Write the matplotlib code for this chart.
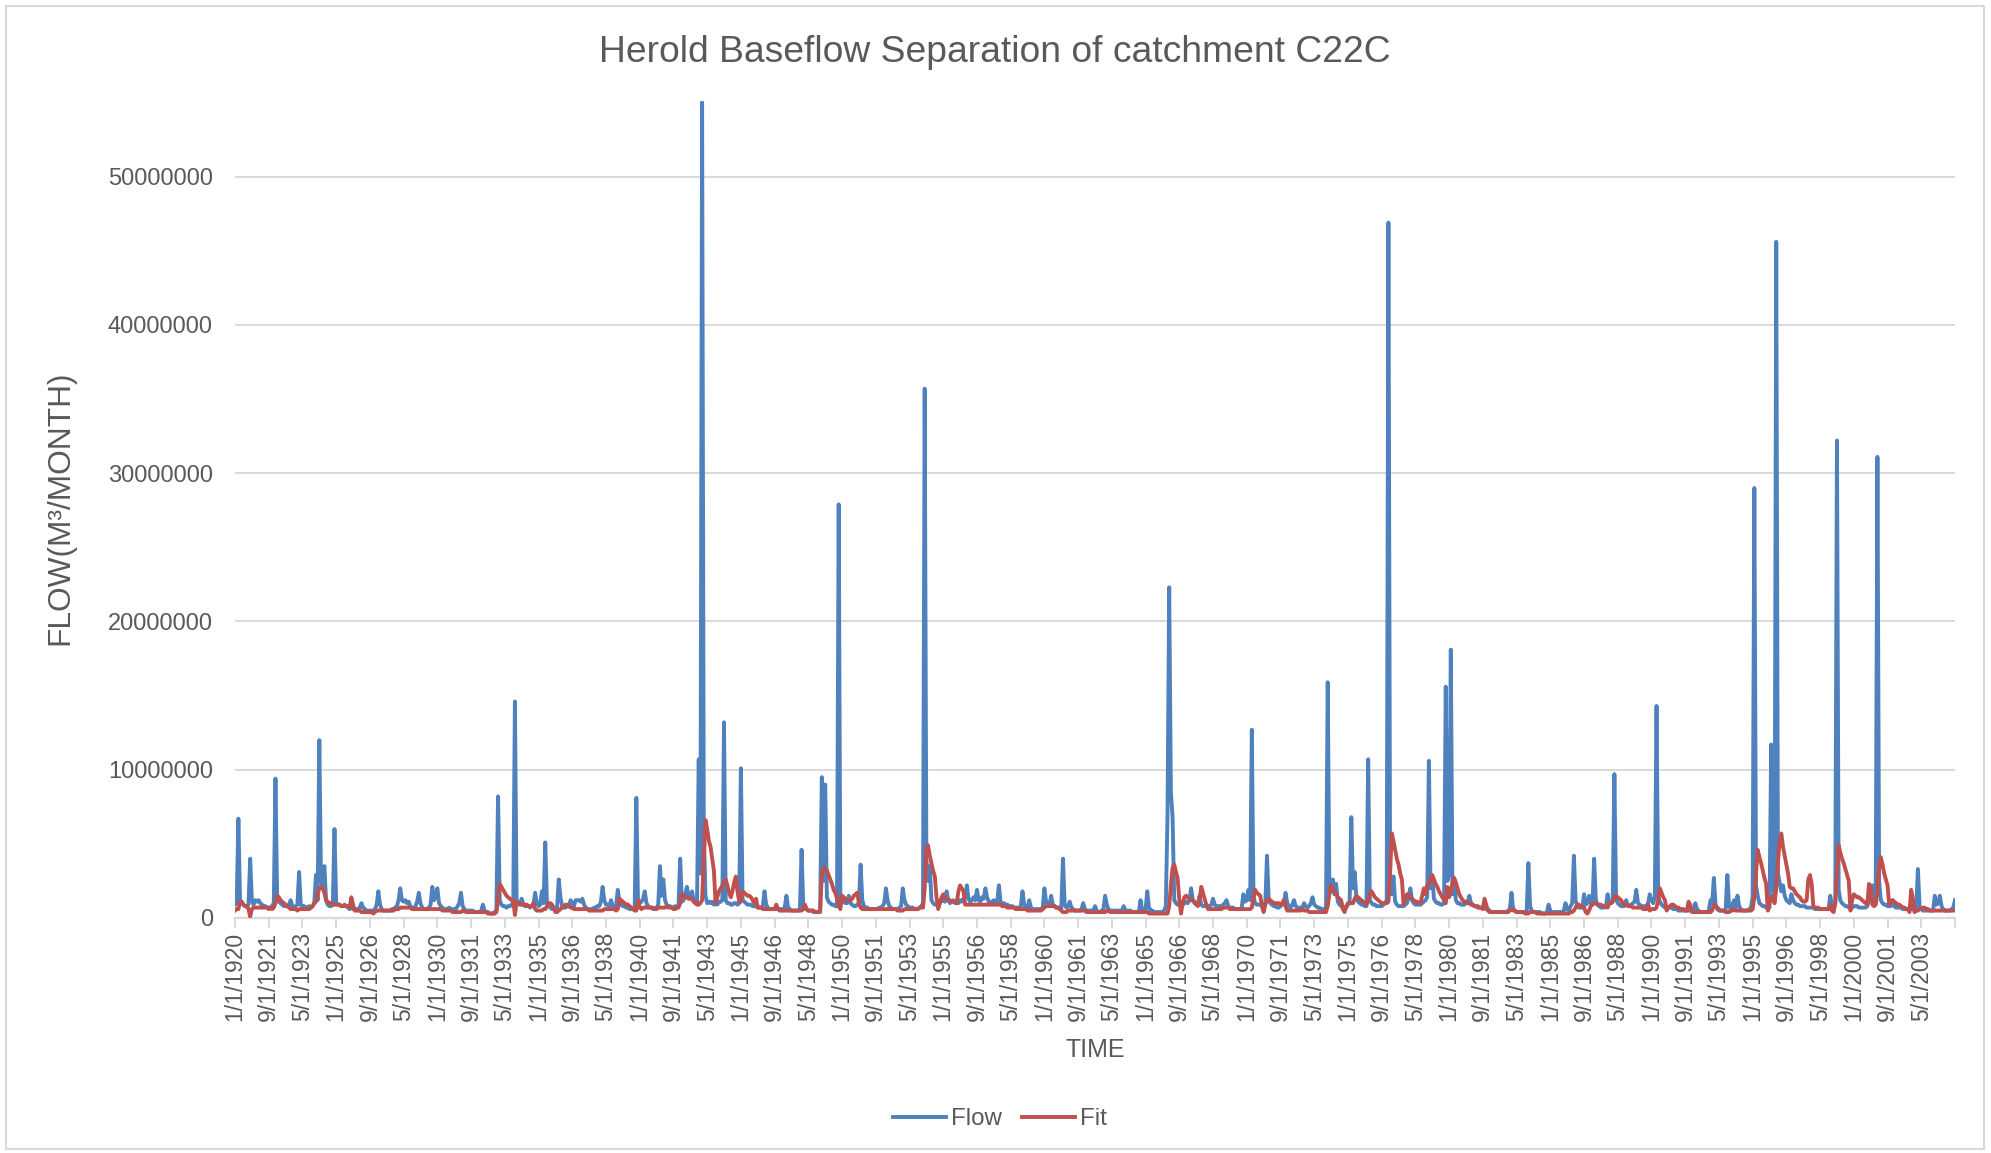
import numpy as np
import matplotlib
matplotlib.use("Agg")
import matplotlib.pyplot as plt
from matplotlib.patches import Rectangle
from matplotlib.lines import Line2D
from matplotlib.ticker import FuncFormatter

plt.rcParams['font.family'] = ['Liberation Sans', 'DejaVu Sans']

FIRST_YEAR = 1920
UNIT = 1e5  # table values are in units of 100 000 m3 per month

# Observed monthly flow, one row per calendar year (Jan..Dec)
flow_rows = [
    [9, 10, 67, 12, 10, 9, 8, 8, 9, 40, 12, 9],          # 1920
    [12, 11, 12, 10, 9, 8, 8, 7, 7, 7, 8, 10],
    [94, 14, 11, 10, 9, 8, 8, 8, 9, 12, 8, 7],
    [8, 9, 31, 9, 8, 8, 7, 7, 8, 7, 8, 10],
    [29, 12, 120, 25, 22, 35, 12, 9, 8, 8, 9, 60],
    [10, 9, 9, 8, 8, 9, 8, 7, 6, 7, 6, 6],
    [6, 6, 7, 10, 7, 6, 5, 5, 5, 5, 5, 6],
    [9, 18, 9, 6, 5, 5, 5, 5, 5, 6, 6, 7],
    [8, 12, 20, 12, 11, 12, 10, 11, 8, 7, 6, 8],
    [11, 17, 10, 7, 6, 6, 6, 7, 9, 21, 12, 14],
    [20, 10, 8, 7, 6, 6, 6, 7, 6, 6, 6, 6],              # 1930
    [8, 10, 17, 8, 6, 5, 5, 5, 5, 5, 4, 4],
    [4, 4, 5, 9, 5, 4, 4, 3, 3, 3, 4, 5],
    [82, 12, 9, 8, 8, 7, 8, 8, 9, 8, 146, 12],
    [10, 9, 13, 9, 8, 8, 8, 7, 8, 9, 17, 10],
    [8, 9, 18, 10, 51, 10, 8, 7, 6, 6, 6, 7],
    [26, 14, 8, 7, 7, 8, 8, 12, 10, 8, 12, 12],
    [12, 11, 13, 9, 7, 6, 6, 6, 6, 7, 7, 8],
    [8, 11, 21, 12, 9, 9, 8, 12, 8, 7, 8, 19],
    [11, 9, 8, 8, 7, 7, 6, 6, 6, 6, 81, 10],
    [10, 11, 13, 18, 10, 8, 7, 7, 6, 6, 7, 9],           # 1940
    [35, 15, 26, 12, 9, 8, 8, 7, 7, 8, 7, 8],
    [40, 11, 12, 16, 21, 14, 13, 18, 12, 10, 11, 107],
    [30, 550, 60, 15, 10, 11, 10, 11, 9, 10, 9, 11],
    [11, 12, 132, 12, 10, 10, 9, 9, 10, 10, 9, 10],
    [101, 12, 11, 10, 9, 9, 9, 8, 8, 8, 7, 7],
    [7, 8, 18, 9, 7, 6, 6, 6, 6, 6, 6, 6],
    [6, 6, 7, 15, 7, 6, 5, 5, 5, 5, 5, 6],
    [46, 8, 6, 6, 5, 5, 5, 4, 4, 4, 4, 5],
    [95, 25, 90, 14, 11, 10, 9, 9, 8, 8, 279, 12],
    [14, 11, 10, 10, 15, 10, 9, 8, 8, 9, 10, 36],        # 1950
    [12, 8, 7, 7, 6, 6, 6, 6, 6, 6, 7, 7],
    [8, 10, 20, 12, 8, 7, 6, 6, 6, 6, 7, 8],
    [20, 12, 9, 8, 7, 7, 7, 6, 6, 6, 7, 8],
    [10, 357, 40, 25, 35, 12, 10, 9, 9, 9, 10, 12],
    [12, 11, 18, 12, 10, 11, 12, 10, 11, 10, 12, 11],
    [13, 14, 22, 13, 11, 12, 14, 12, 19, 12, 11, 14],
    [13, 20, 14, 11, 10, 11, 12, 10, 11, 22, 11, 9],
    [10, 9, 9, 8, 8, 8, 7, 7, 7, 7, 8, 18],
    [9, 7, 7, 12, 7, 6, 6, 6, 6, 6, 6, 7],
    [20, 11, 9, 9, 15, 9, 8, 7, 7, 7, 6, 40],            # 1960
    [9, 7, 8, 11, 7, 6, 5, 5, 5, 5, 6, 10],
    [6, 5, 5, 5, 5, 5, 8, 5, 4, 4, 5, 6],
    [15, 9, 6, 5, 5, 5, 5, 5, 5, 5, 5, 8],
    [5, 5, 5, 5, 4, 4, 4, 4, 4, 12, 5, 5],
    [6, 18, 7, 5, 5, 4, 4, 4, 4, 4, 4, 5],
    [8, 70, 223, 85, 68, 12, 10, 9, 9, 8, 9, 10],
    [11, 10, 12, 20, 12, 10, 9, 9, 15, 9, 8, 8],
    [9, 8, 8, 9, 13, 9, 8, 8, 8, 8, 9, 10],
    [12, 8, 7, 7, 7, 6, 6, 6, 6, 7, 16, 11],
    [12, 19, 12, 127, 14, 10, 9, 9, 9, 8, 9, 10],        # 1970
    [42, 12, 10, 9, 8, 8, 7, 7, 8, 9, 10, 17],
    [10, 8, 7, 9, 12, 8, 7, 7, 7, 7, 10, 8],
    [7, 8, 10, 14, 9, 8, 7, 7, 6, 6, 6, 7],
    [159, 20, 18, 26, 16, 23, 11, 9, 8, 7, 7, 7],
    [9, 11, 68, 20, 31, 14, 11, 10, 9, 9, 8, 8],
    [107, 12, 10, 9, 9, 8, 8, 8, 8, 9, 10, 12],
    [469, 25, 16, 28, 11, 9, 8, 8, 8, 8, 9, 10],
    [14, 20, 12, 10, 9, 9, 9, 9, 10, 11, 12, 14],
    [106, 20, 28, 13, 11, 10, 10, 9, 9, 10, 156, 25],
    [30, 181, 16, 25, 12, 10, 10, 9, 9, 9, 10, 11],      # 1980
    [15, 10, 9, 8, 8, 8, 7, 7, 7, 7, 6, 6],
    [5, 4, 4, 4, 4, 4, 4, 4, 4, 4, 4, 5],
    [6, 17, 6, 5, 4, 4, 4, 4, 4, 4, 4, 37],
    [8, 5, 4, 4, 4, 4, 4, 3, 3, 3, 4, 9],
    [5, 4, 4, 4, 4, 4, 4, 4, 5, 10, 6, 5],
    [8, 10, 42, 12, 8, 7, 7, 7, 16, 9, 10, 15],
    [10, 9, 40, 12, 9, 8, 7, 7, 7, 8, 16, 10],
    [10, 11, 97, 13, 10, 9, 8, 8, 8, 12, 8, 8],
    [9, 10, 11, 19, 10, 9, 8, 8, 8, 8, 10, 16],
    [12, 10, 14, 143, 14, 11, 9, 8, 7, 7, 7, 7],         # 1990
    [7, 6, 6, 6, 5, 5, 5, 5, 5, 5, 5, 5],
    [5, 6, 10, 6, 5, 4, 4, 4, 4, 4, 5, 12],
    [10, 27, 9, 6, 5, 5, 5, 5, 6, 29, 8, 6],
    [9, 12, 7, 15, 8, 6, 5, 5, 5, 5, 6, 7],
    [14, 290, 22, 15, 10, 9, 8, 8, 7, 7, 7, 117],
    [20, 15, 456, 30, 24, 18, 22, 15, 12, 11, 10, 16],
    [12, 10, 9, 9, 8, 8, 8, 8, 7, 7, 7, 7],
    [7, 6, 6, 6, 6, 6, 6, 6, 6, 6, 15, 8],
    [7, 10, 322, 19, 12, 10, 9, 8, 8, 7, 7, 7],
    [8, 8, 8, 7, 7, 7, 7, 7, 8, 12, 14, 22],             # 2000
    [12, 20, 311, 25, 12, 10, 9, 9, 8, 8, 8, 12],
    [8, 7, 7, 7, 7, 6, 6, 6, 6, 6, 6, 6],
    [6, 7, 33, 8, 6, 5, 5, 5, 5, 5, 5, 5],
    [15, 9, 10, 15, 8, 6, 5, 5, 5, 5, 6, 7],
    [12],                                                # Jan 2005
]

# Fitted baseflow, same layout
fit_rows = [
    [5, 6, 6, 11, 11, 9, 8, 8, 6, 1, 6, 7],              # 1920
    [7, 7, 7, 7, 7, 7, 7, 7, 6, 7, 6, 7],
    [10, 15, 14, 12, 11, 10, 9, 8, 7, 6, 6, 6],
    [6, 5, 6, 6, 6, 6, 6, 6, 6, 7, 8, 10],
    [11, 16, 20, 21, 20, 17, 12, 11, 10, 10, 9, 9],
    [9, 9, 9, 8, 8, 8, 8, 8, 7, 14, 9, 5],
    [5, 5, 5, 4, 4, 4, 4, 4, 4, 4, 3, 4],
    [5, 5, 5, 5, 5, 5, 5, 5, 5, 5, 5, 6],
    [6, 6, 7, 7, 7, 7, 7, 7, 7, 6, 6, 6],
    [6, 6, 6, 6, 6, 6, 6, 6, 6, 6, 6, 6],
    [6, 6, 6, 5, 5, 5, 5, 5, 5, 4, 4, 4],                # 1930
    [4, 4, 4, 5, 5, 4, 4, 4, 4, 4, 4, 4],
    [4, 4, 4, 4, 4, 4, 3, 3, 3, 3, 3, 4],
    [12, 23, 21, 19, 17, 15, 14, 13, 12, 12, 2, 11],
    [10, 9, 9, 9, 9, 9, 8, 8, 8, 10, 6, 5],
    [5, 5, 5, 6, 6, 8, 10, 10, 9, 7, 4, 4],
    [5, 6, 7, 8, 9, 9, 8, 7, 7, 6, 6, 6],
    [6, 6, 6, 6, 6, 6, 5, 5, 5, 5, 5, 5],
    [5, 5, 5, 6, 6, 6, 6, 6, 6, 6, 5, 6],
    [13, 12, 11, 10, 9, 9, 8, 7, 6, 5, 5, 12],
    [7, 6, 7, 7, 7, 7, 7, 7, 7, 6, 6, 7],                # 1940
    [7, 7, 7, 7, 8, 7, 7, 7, 6, 6, 7, 7],
    [10, 16, 15, 14, 14, 13, 13, 13, 11, 10, 9, 9],
    [10, 12, 40, 66, 60, 52, 48, 40, 32, 10, 14, 18],
    [20, 22, 24, 26, 22, 17, 14, 18, 24, 28, 18, 11],
    [11, 18, 17, 16, 15, 15, 14, 12, 10, 13, 7, 7],
    [7, 6, 6, 6, 6, 6, 6, 6, 6, 9, 6, 5],
    [5, 5, 5, 5, 5, 5, 5, 5, 5, 5, 5, 5],
    [5, 6, 9, 6, 5, 5, 5, 5, 4, 4, 4, 4],
    [30, 34, 33, 32, 29, 26, 23, 19, 17, 13, 8, 6],
    [15, 14, 13, 12, 12, 12, 13, 15, 16, 17, 10, 7],     # 1950
    [6, 6, 6, 6, 6, 6, 6, 6, 6, 6, 6, 6],
    [6, 6, 6, 6, 6, 6, 6, 6, 6, 5, 5, 5],
    [5, 6, 6, 6, 6, 6, 6, 6, 6, 6, 7, 7],
    [7, 20, 46, 49, 42, 37, 32, 28, 14, 6, 10, 14],
    [16, 14, 13, 12, 12, 11, 11, 11, 10, 18, 22, 20],
    [18, 9, 9, 9, 9, 9, 9, 9, 9, 9, 9, 9],
    [9, 9, 9, 9, 9, 9, 9, 9, 9, 9, 9, 8],
    [8, 8, 7, 7, 7, 7, 7, 6, 6, 6, 6, 6],
    [6, 6, 5, 5, 5, 5, 5, 5, 5, 5, 5, 6],
    [7, 8, 8, 8, 8, 8, 8, 7, 7, 6, 5, 4],                # 1960
    [4, 4, 5, 5, 5, 5, 5, 5, 5, 5, 5, 5],
    [5, 4, 4, 4, 4, 4, 4, 4, 4, 4, 4, 4],
    [4, 5, 5, 4, 4, 4, 4, 4, 4, 4, 4, 4],
    [4, 4, 4, 4, 4, 4, 4, 4, 4, 4, 4, 4],
    [4, 4, 3, 3, 3, 3, 3, 3, 3, 3, 3, 3],
    [3, 3, 8, 22, 34, 36, 31, 27, 12, 3, 10, 14],
    [15, 14, 13, 12, 12, 11, 10, 8, 12, 21, 17, 13],
    [9, 6, 6, 6, 6, 6, 6, 6, 6, 6, 7, 7],
    [7, 7, 6, 6, 6, 6, 6, 6, 6, 6, 6, 6],
    [6, 6, 6, 7, 13, 19, 17, 16, 15, 8, 4, 9],           # 1970
    [12, 13, 12, 11, 10, 10, 10, 10, 9, 10, 12, 8],
    [5, 5, 5, 5, 5, 5, 5, 5, 5, 6, 5, 5],
    [5, 4, 4, 4, 4, 4, 4, 4, 4, 4, 4, 4],
    [8, 16, 22, 20, 18, 16, 14, 13, 12, 6, 4, 8],
    [10, 10, 10, 10, 13, 15, 14, 13, 12, 11, 10, 9],
    [12, 16, 18, 16, 14, 13, 12, 11, 10, 10, 10, 10],
    [11, 30, 57, 52, 46, 40, 36, 30, 26, 9, 13, 16],
    [16, 14, 13, 12, 11, 11, 10, 10, 15, 20, 16, 22],
    [22, 27, 29, 26, 23, 21, 18, 16, 14, 12, 10, 21],
    [14, 18, 24, 27, 24, 20, 16, 14, 12, 11, 11, 10],    # 1980
    [10, 9, 9, 8, 8, 7, 7, 7, 6, 13, 9, 5],
    [4, 4, 4, 4, 4, 4, 4, 4, 4, 4, 4, 4],
    [5, 6, 5, 5, 4, 4, 4, 4, 4, 3, 3, 3],
    [4, 4, 4, 4, 3, 3, 3, 3, 3, 3, 3, 3],
    [3, 3, 3, 3, 3, 3, 3, 3, 3, 3, 3, 3],
    [4, 4, 5, 7, 9, 9, 8, 8, 7, 4, 3, 5],
    [8, 9, 10, 10, 9, 9, 9, 8, 8, 8, 7, 10],
    [10, 11, 14, 15, 14, 13, 12, 10, 9, 9, 9, 8],
    [8, 7, 7, 7, 7, 7, 7, 6, 6, 6, 9, 5],
    [6, 6, 6, 7, 12, 20, 17, 14, 12, 5, 7, 8],           # 1990
    [9, 9, 8, 7, 7, 6, 6, 6, 5, 5, 11, 9],
    [4, 4, 4, 4, 4, 4, 4, 4, 4, 4, 4, 4],
    [5, 9, 8, 7, 6, 5, 5, 5, 4, 4, 4, 5],
    [5, 6, 5, 5, 5, 5, 5, 5, 5, 5, 5, 5],
    [6, 14, 30, 46, 41, 37, 32, 27, 23, 5, 10, 14],
    [15, 10, 20, 38, 52, 57, 48, 42, 36, 30, 21, 20],
    [20, 18, 16, 15, 14, 12, 11, 11, 12, 26, 29, 23],
    [8, 7, 7, 7, 6, 6, 6, 6, 6, 6, 9, 5],
    [4, 10, 30, 49, 44, 40, 37, 33, 29, 25, 5, 12],
    [16, 15, 14, 14, 13, 12, 11, 10, 9, 23, 20, 9],      # 2000
    [8, 9, 18, 34, 41, 36, 30, 26, 22, 9, 11, 12],
    [11, 10, 9, 9, 8, 7, 7, 6, 6, 4, 19, 13],
    [4, 5, 5, 6, 6, 7, 7, 6, 6, 5, 5, 5],
    [5, 5, 5, 5, 5, 5, 5, 5, 5, 5, 5, 5],
    [5],                                                 # Jan 2005
]

for rows in (flow_rows, fit_rows):
    assert all(len(r) == 12 for r in rows[:-1])

flow = np.array([v for r in flow_rows for v in r], dtype=float) * UNIT
fit = np.array([v for r in fit_rows for v in r], dtype=float) * UNIT
assert len(flow) == len(fit)

n = len(flow)
idx = np.arange(n)


def month_label(k):
    return f"{k % 12 + 1}/1/{FIRST_YEAR + k // 12}"


tick_pos = np.arange(0, n, 20)
tick_lab = [month_label(k) if k <= 1000 else "" for k in tick_pos]

W, H = 1991, 1153
fig = plt.figure(figsize=(W / 100, H / 100), dpi=100)
fig.patch.set_facecolor("white")

left, right, bottom, top = 235, 1955, 918, 101
ax = fig.add_axes([left / W, 1 - bottom / H, (right - left) / W, (bottom - top) / H])

blue = "#4F81BD"
red = "#C0504D"
grey_txt = "#595959"
grid_c = "#D9D9D9"
LW = 2.8

ax.plot(idx, flow, color=blue, lw=LW, solid_joinstyle="round", zorder=3)
ax.plot(idx, fit, color=red, lw=LW, solid_joinstyle="round", zorder=4)

ax.set_xlim(0, n - 1)
ax.set_ylim(0, 55.1e6)
ax.set_yticks(np.arange(0, 50e6 + 1, 10e6))
ax.yaxis.set_major_formatter(FuncFormatter(lambda v, p: f"{int(round(v))}"))
ax.grid(axis="y", color=grid_c, lw=1.4)
ax.set_axisbelow(True)
for s in ("top", "right", "left"):
    ax.spines[s].set_visible(False)
ax.spines["bottom"].set_color(grid_c)
ax.spines["bottom"].set_linewidth(1.6)

ax.tick_params(axis="y", length=0, pad=16, labelsize=17, labelcolor=grey_txt)
ax.set_xticks(tick_pos)
ax.set_xticklabels(tick_lab, rotation=90, ha="center", va="top")
ax.tick_params(axis="x", length=7, width=1.4, color=grid_c, pad=3,
               labelsize=16.5, labelcolor=grey_txt)

fig.text(995 / W, 1 - 52 / H, "Herold Baseflow Separation of catchment C22C",
         ha="center", va="center", fontsize=26.8, color=grey_txt)
fig.text(60 / W, 1 - 508 / H, "FLOW(M³/MONTH)", rotation=90,
         ha="center", va="center", fontsize=22.8, color=grey_txt)
fig.text(1095 / W, 1 - 1050 / H, "TIME", ha="center", va="center",
         fontsize=18, color=grey_txt)

handles = [Line2D([], [], color=blue, lw=LW), Line2D([], [], color=red, lw=LW)]
leg = fig.legend(handles, ["Flow", "Fit"], loc="center",
                 bbox_to_anchor=(1000 / W, 1 - 1119 / H), ncol=2, frameon=False,
                 fontsize=17.4, handlelength=2.2, handletextpad=0.2,
                 columnspacing=0.85)
for t in leg.get_texts():
    t.set_color(grey_txt)

fig.patches.append(Rectangle((6 / W, 4 / H), (1984 - 6) / W, (1149 - 6) / H,
                             transform=fig.transFigure, fill=False,
                             edgecolor=grid_c, lw=1.5))

fig.savefig("out.png", dpi=100, facecolor="white")
